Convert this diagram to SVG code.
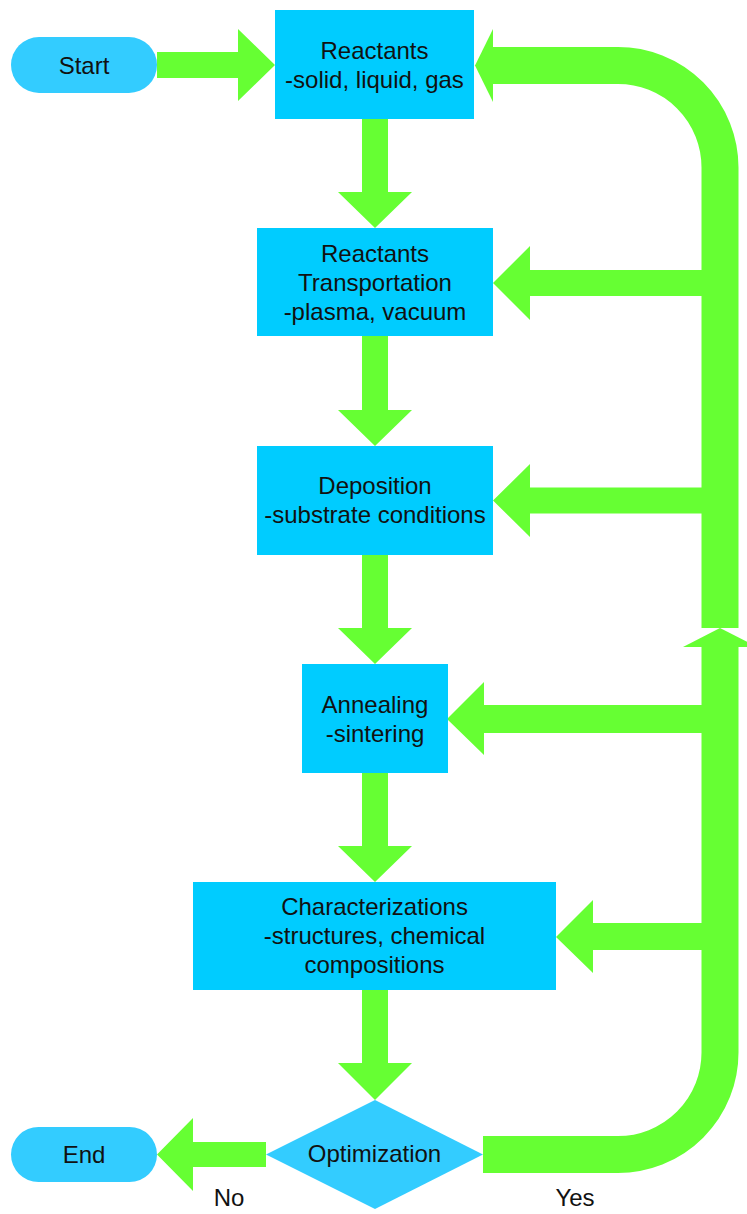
<svg xmlns="http://www.w3.org/2000/svg" width="747" height="1214" viewBox="0 0 747 1214">
<style>
.box{fill:#00CCFF}
.term{fill:#33CCFF}
.arr{fill:#66FF33}
.band{fill:none;stroke:#66FF33;stroke-width:37}
text{font-family:"Liberation Sans",Arial,sans-serif;font-size:24px;fill:#111;text-anchor:middle}
</style>
<rect width="747" height="1214" fill="#fff"/>
<g id="connectors">
  <!-- Start -> Reactants -->
  <polygon class="arr" points="157,52 238,52 238,29 275,65 238,101 238,78 157,78"/>
  <!-- vertical down arrows -->
  <polygon class="arr" points="362,119 388,119 388,192 412,192 375,228 338,192 362,192"/>
  <polygon class="arr" points="362,336 388,336 388,410 412,410 375,446 338,410 362,410"/>
  <polygon class="arr" points="362,555 388,555 388,628 412,628 375,664 338,628 362,628"/>
  <polygon class="arr" points="362,773 388,773 388,846 412,846 375,882 338,846 362,846"/>
  <polygon class="arr" points="362,990 388,990 388,1063 412,1063 375,1100 338,1063 362,1063"/>
  <!-- top feedback loop -->
  <path class="band" d="M492 65.5 H618 A102 102 0 0 1 720 167.5 V628"/>
  <polygon class="arr" points="475,65.5 493,29 493,102"/>
  <!-- Yes loop upward -->
  <path class="band" d="M483 1154.5 H618 A102 102 0 0 0 720 1052.5 V646"/>
  <polygon class="arr" points="683,647 720,628 757,647"/>
  <!-- branch arrows -->
  <polygon class="arr" points="702,270 530,270 530,246 493,283 530,320 530,296 702,296"/>
  <polygon class="arr" points="702,487.5 530,487.5 530,464 493,500.5 530,537 530,513.5 702,513.5"/>
  <polygon class="arr" points="702,705 484,705 484,682 447,719 484,755 484,733 702,733"/>
  <polygon class="arr" points="702,923 593,923 593,900 556,937 593,973 593,950 702,950"/>
  <!-- No arrow -->
  <polygon class="arr" points="266,1142 193,1142 193,1118 157,1154.5 193,1191 193,1167 266,1167"/>
  <text x="229" y="1206">No</text>
  <text x="575" y="1206">Yes</text>
</g>
<g id="start">
  <rect class="term" x="11" y="37" width="146" height="56" rx="28"/>
  <text x="84" y="73.5">Start</text>
</g>
<g id="reactants">
  <rect class="box" x="275" y="10" width="199" height="109"/>
  <text x="374.5" y="58.5">Reactants</text>
  <text x="374.5" y="87.5">-solid, liquid, gas</text>
</g>
<g id="transportation">
  <rect class="box" x="257" y="228" width="236" height="108"/>
  <text x="375" y="261.5">Reactants</text>
  <text x="375" y="290.5">Transportation</text>
  <text x="375" y="319.5">-plasma, vacuum</text>
</g>
<g id="deposition">
  <rect class="box" x="257" y="446" width="236" height="109"/>
  <text x="375" y="494">Deposition</text>
  <text x="375" y="523">-substrate conditions</text>
</g>
<g id="annealing">
  <rect class="box" x="302" y="664" width="146" height="109"/>
  <text x="375" y="712.5">Annealing</text>
  <text x="375" y="741.5">-sintering</text>
</g>
<g id="characterizations">
  <rect class="box" x="193" y="882" width="363" height="108"/>
  <text x="374.5" y="915">Characterizations</text>
  <text x="374.5" y="944">-structures, chemical</text>
  <text x="374.5" y="973">compositions</text>
</g>
<g id="optimization">
  <polygon class="term" points="375,1100 483,1154.5 375,1209 266,1154.5"/>
  <text x="374.5" y="1162">Optimization</text>
</g>
<g id="end">
  <rect class="term" x="11" y="1127" width="146" height="55" rx="27.5"/>
  <text x="84" y="1163">End</text>
</g>
</svg>
